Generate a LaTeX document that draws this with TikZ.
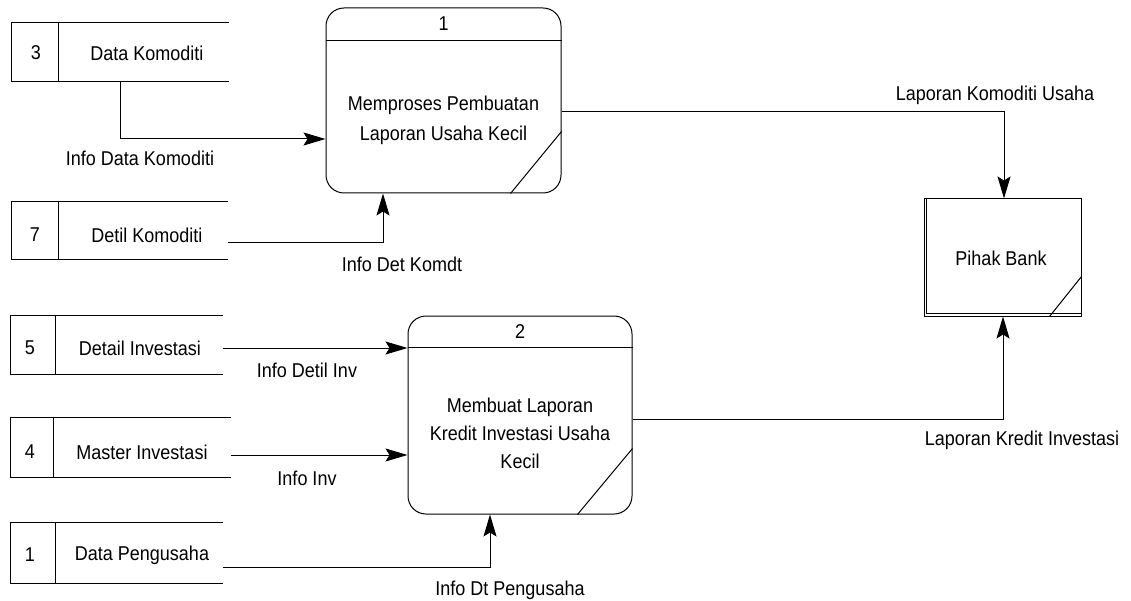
\documentclass[tikz,border=0pt]{standalone}
\usepackage{fontspec}
\setmainfont{Liberation Sans}[FakeStretch=0.9]
\usetikzlibrary{arrows.meta}

\tikzset{
  lbl/.style={font=\fontsize{20}{30}\selectfont, inner sep=0pt},
  anchorbox/.style={draw=none, inner sep=0pt},
  procbox/.style={draw, rounded corners=18pt, inner sep=0pt},
  bankbox/.style={draw, inner sep=0pt},
  flow/.style={-{Stealth[length=22pt,width=13pt,inset=4pt]}},
}

\begin{document}
\begin{tikzpicture}[x=1pt,y=-1pt,line width=1pt,draw=black]
\useasboundingbox (0,0) rectangle (1131,601);

% ---------- data stores (open at the right) ----------
\node[anchorbox, minimum width=216pt, minimum height=58pt] (ds3) at (120,52) {};
\node[anchorbox, minimum width=215pt, minimum height=57pt] (ds7) at (119.5,230.5) {};
\node[anchorbox, minimum width=211pt, minimum height=58pt] (ds5) at (116.5,345) {};
\node[anchorbox, minimum width=219pt, minimum height=59pt] (ds4) at (120.5,447.5) {};
\node[anchorbox, minimum width=211pt, minimum height=60pt] (ds1) at (116.5,553) {};

\foreach \s/\d in {ds3/47, ds7/47, ds5/45, ds4/43, ds1/45}{
  \draw (\s.north east) -- (\s.north west) -- (\s.south west) -- (\s.south east);
  \draw ([xshift=\d pt]\s.north west) -- ([xshift=\d pt]\s.south west);
}

\node[lbl] (n3) at (36,53) {3};
\node[lbl] (t3) at (147,53) {Data Komoditi};
\node[lbl] (n7) at (35,235) {7};
\node[lbl] (t7) at (147,235) {Detil Komoditi};
\node[lbl] (n5) at (30,348) {5};
\node[lbl] (t5) at (140,348) {Detail Investasi};
\node[lbl] (n4) at (30,452) {4};
\node[lbl] (t4) at (142,452) {Master Investasi};
\node[lbl] (n1) at (30,555) {1};
\node[lbl] (t1) at (142,555) {Data Pengusaha};

% ---------- processes ----------
\node[procbox, minimum width=235pt, minimum height=185pt] (p1) at (443.5,100.5) {};
\draw ([yshift=-33pt]p1.north west) -- ([yshift=-33pt]p1.north east);
\draw ([xshift=-51pt]p1.south east) -- ([yshift=62pt]p1.south east);
\node[lbl] (p1num) at (443.5,24) {1};
\node[lbl, align=center] (p1txt) at (443.5,120) {Memproses Pembuatan\\Laporan Usaha Kecil};

\node[procbox, minimum width=224pt, minimum height=198pt] (p2) at (520,415) {};
\draw ([yshift=-32pt]p2.north west) -- ([yshift=-32pt]p2.north east);
\draw ([xshift=-55pt]p2.south east) -- ([yshift=66pt]p2.south east);
\node[lbl] (p2num) at (520,332) {2};
\node[lbl, align=center, font=\fontsize{20}{28}\selectfont] (p2txt) at (520,433)
  {Membuat Laporan\\Kredit Investasi Usaha\\Kecil};

% ---------- external entity ----------
\node[bankbox, minimum width=157pt, minimum height=117pt] (bank) at (1002.5,257.5) {};
\draw ([xshift=3pt]bank.north west) -- ([xshift=3pt,yshift=3pt]bank.south west)
      -- ([yshift=3pt]bank.south east);
\draw ([xshift=-32pt]bank.south east) -- ([yshift=40pt]bank.south east);
\node[lbl] (banktxt) at (1001,258) {Pihak Bank};

% ---------- data flows ----------
\draw[flow] ([xshift=109pt]ds3.south west) |- ([yshift=-38.5pt]p1.west);
\node[lbl] (f1) at (140,158) {Info Data Komoditi};

\draw[flow] ([yshift=-12.5pt]ds7.east) -| ([xshift=-60.5pt]p1.south);
\node[lbl] (f2) at (402,264) {Info Det Komdt};

\draw[flow] ([yshift=-3pt]ds5.east) -- ([yshift=-3pt]ds5.east -| p2.west);
\node[lbl] (f3) at (307,370) {Info Detil Inv};

\draw[flow] ([yshift=-7.5pt]ds4.east) -- ([yshift=-7.5pt]ds4.east -| p2.west);
\node[lbl] (f4) at (307,478) {Info Inv};

\draw[flow] ([yshift=-14pt]ds1.east) -| ([xshift=-30pt]p2.south);
\node[lbl] (f5) at (510,590) {Info Dt Pengusaha};

\draw[flow] ([yshift=-11.5pt]p1.east) -| ([xshift=1.5pt]bank.north);
\node[lbl] (f6) at (995,95) {Laporan Komoditi Usaha};

\draw[flow] ([yshift=-4pt]p2.east) -| ([xshift=0.5pt]bank.south);
\node[lbl] (f7) at (1022,440) {Laporan Kredit Investasi};
\end{tikzpicture}
\end{document}
